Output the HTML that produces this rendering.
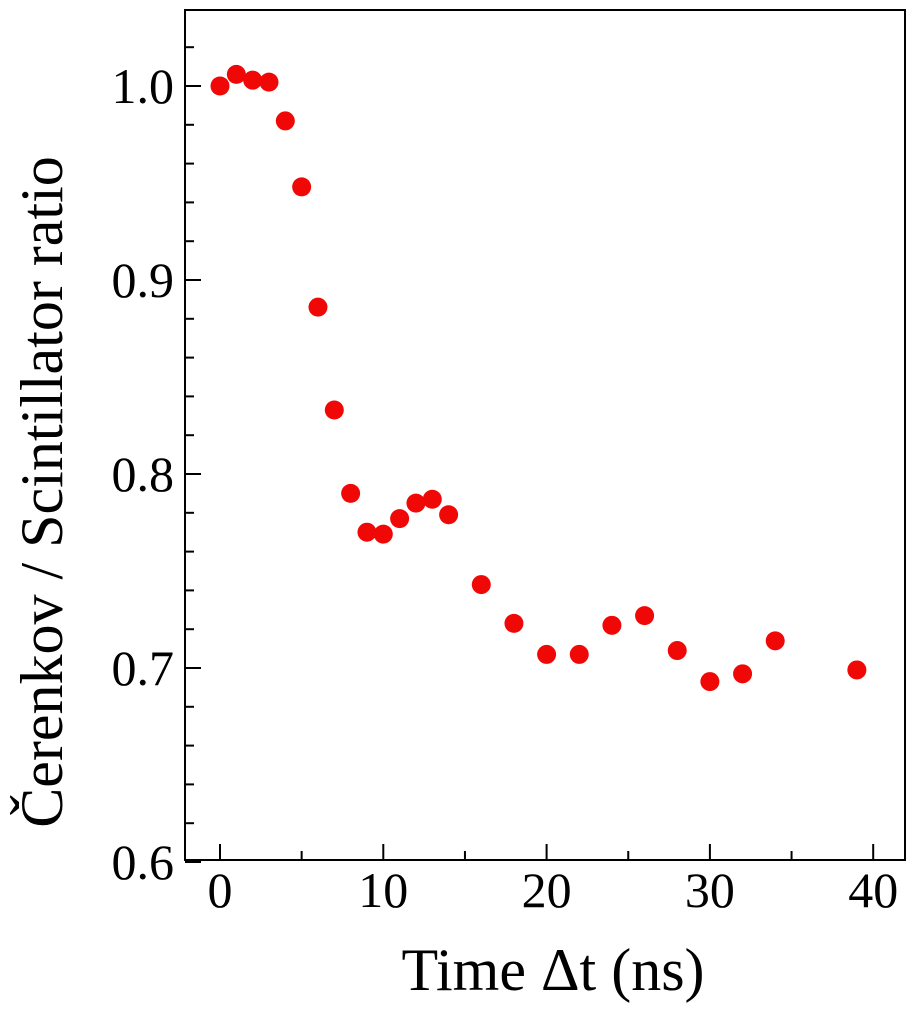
<!DOCTYPE html>
<html><head><meta charset="utf-8"><style>body{margin:0;background:#fff}svg{display:block}text{font-family:"Liberation Serif",serif;fill:#000}</style></head>
<body>
<svg id="chart" width="914" height="1012" viewBox="0 0 914 1012" xmlns="http://www.w3.org/2000/svg"></svg>
<script>
const xValues=[0,1,2,3,4,5,6,7,8,9,10,11,12,13,14,16,18,20,22,24,26,28,30,32,34,39];
const yValues=[1.000,1.006,1.003,1.002,0.982,0.948,0.886,0.833,0.790,0.770,0.769,0.777,0.785,0.787,0.779,0.743,0.723,0.707,0.707,0.722,0.727,0.709,0.693,0.697,0.714,0.699];
const xTicks=[0,10,20,30,40];
const yTicks=[0.6,0.7,0.8,0.9,1.0];
const L=185,R=905,T=10,B=860;
const sx=v=>220+(v-0)*16.33;
const sy=v=>86+(1.0-v)*1940;
const svg=document.getElementById('chart');
const NS='http://www.w3.org/2000/svg';
function mk(tag,a,p){const e=document.createElementNS(NS,tag);for(const k in a)e.setAttribute(k,a[k]);(p||svg).appendChild(e);return e;}
const frame=mk('rect',{x:L,y:T,width:R-L,height:B-T,fill:'none',stroke:'#000','stroke-width':2});


const ax=mk('g',{});


for(let v=0;v<=41;v+=5){const x=sx(v);const len=v%10===0?16:9;mk('line',{x1:x,y1:B,x2:x,y2:B-len,stroke:'#000','stroke-width':2},ax);}
for(let i=0;i<=21;i++){const v=0.6+i*0.02;const y=sy(v);if(y<T)continue;const len=(i%5===0)?16:9;mk('line',{x1:L,y1:y,x2:L+len,y2:y,stroke:'#000','stroke-width':2},ax);}
xTicks.forEach(v=>{const t=mk('text',{x:sx(v),y:907,'font-size':50,'text-anchor':'middle'});t.textContent=String(v);});
yTicks.forEach(v=>{const t=mk('text',{x:174,y:sy(v)+17,'font-size':50,'text-anchor':'end'});t.textContent=v.toFixed(1);});
const xt=mk('text',{x:553,y:990,'font-size':60,'text-anchor':'middle'});xt.textContent='Time Δt (ns)';


const yt=mk('text',{x:0,y:0,'font-size':60,'text-anchor':'middle',transform:'translate(62,492) rotate(-90)'});yt.textContent='Čerenkov / Scintillator ratio';


const g=mk('g',{});


xValues.forEach((xv,i)=>{const c=mk('circle',{cx:sx(xv),cy:sy(yValues[i]),r:9.5,fill:'#f00806'},g);});
</script>
</body></html>
